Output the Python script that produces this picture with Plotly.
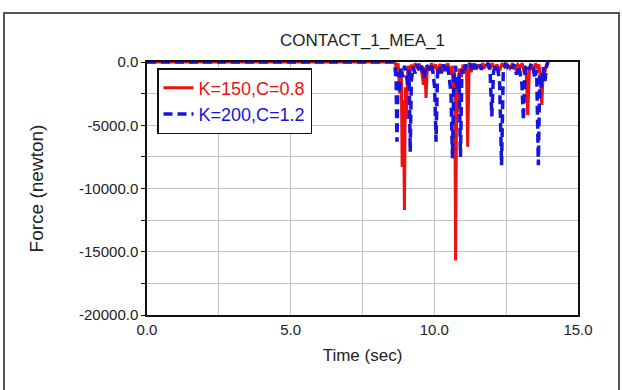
import plotly.graph_objects as go

# ---- data ----
red_name = "K=150,C=0.8"
red_t = [0.0, 8.62, 8.68, 8.74, 8.80, 8.85, 8.88, 8.92, 8.96, 8.99, 9.03, 9.08, 9.14, 9.20, 9.26,
         9.33, 9.40, 9.47, 9.55, 9.62, 9.67, 9.71, 9.76, 9.82, 9.90, 9.97, 10.05, 10.12, 10.20,
         10.27, 10.33, 10.40, 10.47, 10.55, 10.62, 10.67, 10.71, 10.74, 10.78, 10.83, 10.88,
         10.94, 11.00, 11.06, 11.12, 11.16, 11.21, 11.28, 11.36, 11.44, 11.52, 11.60, 11.68,
         11.76, 11.85, 11.93, 12.01, 12.10, 12.18, 12.27, 12.36, 12.45, 12.54, 12.63, 12.72,
         12.81, 12.90, 12.98, 13.06, 13.13, 13.19, 13.25, 13.31, 13.38, 13.45, 13.52, 13.58,
         13.64, 13.69, 13.74, 13.79, 13.85, 13.90, 13.96]
red_f = [0, 0, -400, -100, -2500, -800, -8300, -3000, -11700, -2000, -4500, -300, -900, -200, -700,
         -100, -400, -150, -600, -1800, -400, -2850, -300, -700, -100, -500, -200, -900, -150,
         -800, -200, -500, -100, -1000, -300, -2500, -800, -15700, -1500, -4000, -500,
         -1200, -200, -900, -400, -6700, -300, -800, -100, -600, -200, -500, -100,
         -400, -200, -600, -100, -500, -200, -700, -100, -400, -200, -500, -100,
         -600, -200, -400, -100, -900, -300, -4200, -600, -200, -700, -100, -500,
         -200, -1200, -3400, -500, -800, -200, 0]

blue_name = "K=200,C=1.2"
blue_t = [0.0, 8.58, 8.63, 8.67, 8.70, 8.74, 8.79, 8.84, 8.90, 8.96, 9.02, 9.08, 9.12, 9.16, 9.20,
          9.26, 9.33, 9.40, 9.48, 9.56, 9.64, 9.72, 9.80, 9.88, 9.95, 10.01, 10.06, 10.11, 10.17,
          10.24, 10.31, 10.38, 10.45, 10.52, 10.58, 10.63, 10.68, 10.74, 10.80, 10.86, 10.91,
          10.96, 11.02, 11.09, 11.16, 11.24, 11.32, 11.40, 11.48, 11.56, 11.64, 11.72, 11.80,
          11.88, 11.94, 12.00, 12.06, 12.13, 12.20, 12.27, 12.34, 12.40, 12.47, 12.54, 12.62,
          12.70, 12.78, 12.86, 12.92, 12.98, 13.05, 13.10, 13.16, 13.23, 13.30, 13.37, 13.44,
          13.50, 13.56, 13.62, 13.67, 13.73, 13.79, 13.85, 13.91, 13.96]
blue_f = [0, 0, -300, -1500, -6300, -800, -2500, -400, -1200, -300, -900, -2000, -600, -7100, -1500,
          -400, -900, -200, -700, -300, -1300, -200, -600, -100, -800, -2000, -6300, -1000, -300,
          -900, -200, -700, -300, -1200, -2500, -7600, -1000, -300, -2200, -900, -7500,
          -600, -1000, -200, -500, -100, -800, -200, -400, -100, -600, -200, -300,
          -100, -700, -4300, -800, -200, -500, -1500, -8150, -600, -200, -400, -100,
          -500, -200, -1000, -300, -800, -1800, -4600, -500, -200, -600, -100, -500,
          -1300, -600, -8150, -1000, -2000, -400, -1500, -300, 0]

x_ticks = [0.0, 5.0, 10.0, 15.0]
x_labels = ["0.0", "5.0", "10.0", "15.0"]
y_ticks = [0, -5000, -10000, -15000, -20000]
y_labels = ["0.0", "-5000.0", "-10000.0", "-15000.0", "-20000.0"]

FONT = "Liberation Sans, Arial, sans-serif"
RED = "#ee1111"
BLUE = "#1515dd"
TXT = "#222222"
GRID = "#c4c4c4"

fig = go.Figure()
fig.add_trace(go.Scatter(x=red_t, y=red_f, mode="lines",
                         name=f"<span style='color:{RED}'>{red_name}</span>",
                         line=dict(color=RED, width=3)))
fig.add_trace(go.Scatter(x=blue_t, y=blue_f, mode="lines",
                         name=f"<span style='color:{BLUE}'>{blue_name}</span>",
                         line=dict(color=BLUE, width=3.5, dash="9px,5px")))

L, R, T, B = 147, 44, 62, 75
W, H = 622, 390
pw, ph = W - L - R, H - T - B

fig.update_layout(
    width=W, height=H,
    margin=dict(l=L, r=R, t=T, b=B),
    paper_bgcolor="white", plot_bgcolor="white",
    font=dict(family=FONT, size=15, color=TXT),
    title=dict(text="CONTACT_1_MEA_1", x=(L + pw / 2) / W, xanchor="center",
               y=1 - 40 / H, yanchor="middle", font=dict(size=17, color=TXT)),
    showlegend=True,
    legend=dict(x=(157 - L) / pw, y=1 - (68 - T) / ph, xanchor="left", yanchor="top",
                bgcolor="white", bordercolor="#111111", borderwidth=1.5,
                font=dict(size=18), itemwidth=30, tracegroupgap=0),
    xaxis=dict(range=[0, 15], tickvals=x_ticks, ticktext=x_labels,
               showgrid=True, gridcolor=GRID, gridwidth=1,
               minor=dict(dtick=2.5, showgrid=True, gridcolor=GRID, gridwidth=1),
               showline=True, linecolor="#111111", linewidth=1.5, mirror=True,
               ticks="", zeroline=False,
               title=dict(text="Time (sec)", font=dict(size=17), standoff=12)),
    yaxis=dict(range=[-20000, 0], tickvals=y_ticks, ticktext=y_labels,
               showgrid=True, gridcolor=GRID, gridwidth=1,
               minor=dict(dtick=2500, showgrid=True, gridcolor=GRID, gridwidth=1,
                          ticks="outside", ticklen=4, tickcolor="#111111"),
               ticks="outside", ticklen=4, tickcolor="#111111",
               showline=True, linecolor="#111111", linewidth=1.5, mirror=True,
               zeroline=False,
               title=dict(text="Force (newton)", font=dict(size=19), standoff=30)),
)

# outer frame of the picture
fig.add_shape(type="rect", xref="paper", yref="paper",
              x0=(4 - L) / pw, x1=(619 - L) / pw,
              y0=(H - B - 394) / ph, y1=1 + (T - 13) / ph,
              line=dict(color="#555555", width=2), layer="below")

fig.write_html("out.html")
